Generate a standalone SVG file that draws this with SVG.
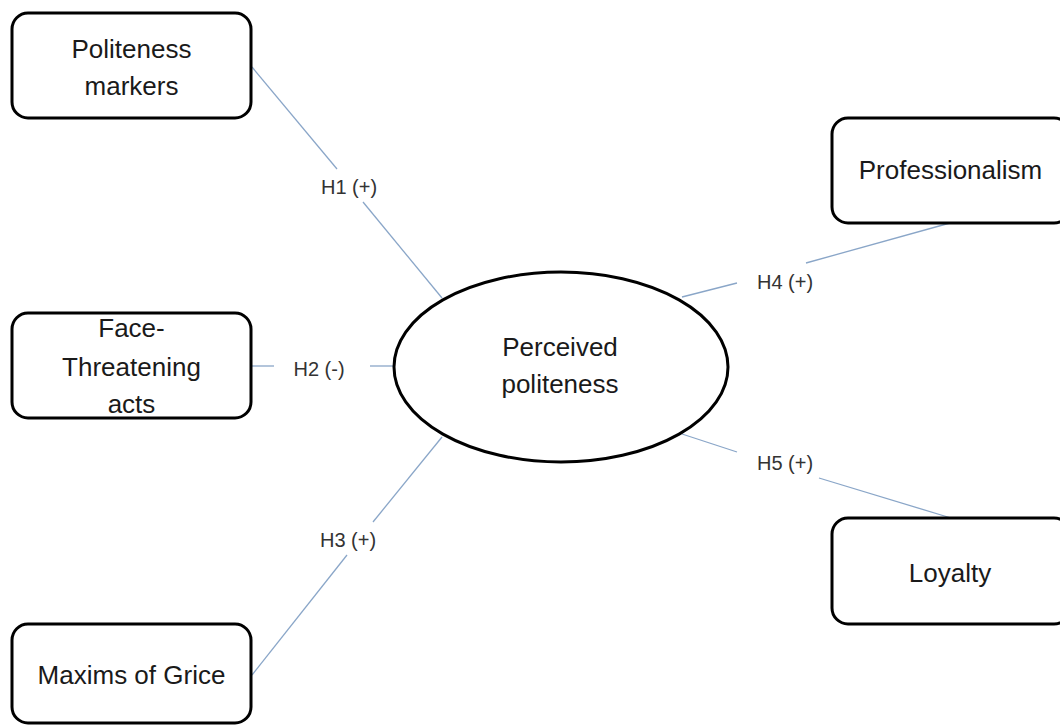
<svg xmlns="http://www.w3.org/2000/svg" width="1060" height="725" viewBox="0 0 1060 725">
<style>
.box{fill:#fff;stroke:#000;stroke-width:3}
.t{font-family:"Liberation Sans",Arial,sans-serif;font-size:26px;fill:#1a1a1a;text-anchor:middle}
.l{font-family:"Liberation Sans",Arial,sans-serif;font-size:20px;fill:#333;text-anchor:middle}
.c{stroke:#8aa6c8;stroke-width:1.3;fill:none}
</style>
<rect width="1060" height="725" fill="#fff"/>
<g id="connectors">
<line class="c" x1="252" y1="67" x2="337" y2="169"/>
<line class="c" x1="363" y1="202" x2="442" y2="298"/>
<line class="c" x1="251" y1="366" x2="274" y2="366"/>
<line class="c" x1="370" y1="366" x2="395" y2="366"/>
<line class="c" x1="442" y1="437" x2="373" y2="522"/>
<line class="c" x1="347" y1="555" x2="252" y2="675"/>
<line class="c" x1="682" y1="297" x2="737" y2="283"/>
<line class="c" x1="806" y1="263" x2="950" y2="223"/>
<line class="c" x1="682" y1="434" x2="737" y2="452"/>
<line class="c" x1="819" y1="478" x2="951" y2="518"/>
<text class="l" x="349" y="194">H1 (+)</text>
<text class="l" x="319" y="376">H2 (-)</text>
<text class="l" x="348" y="547">H3 (+)</text>
<text class="l" x="785" y="289">H4 (+)</text>
<text class="l" x="785" y="470">H5 (+)</text>
</g>
<g id="politeness-markers">
<rect class="box" x="12" y="13" width="239" height="105" rx="16"/>
<text class="t" x="131.5" y="58">Politeness</text>
<text class="t" x="131.5" y="95">markers</text>
</g>
<g id="face-threatening-acts">
<rect class="box" x="12" y="313" width="239" height="105" rx="16"/>
<text class="t" x="131.5" y="337">Face-</text>
<text class="t" x="131.5" y="376">Threatening</text>
<text class="t" x="131.5" y="413">acts</text>
</g>
<g id="maxims-of-grice">
<rect class="box" x="12" y="624" width="239" height="99" rx="16"/>
<text class="t" x="131.5" y="684">Maxims of Grice</text>
</g>
<g id="perceived-politeness">
<ellipse class="box" cx="561" cy="367" rx="167" ry="95"/>
<text class="t" x="560" y="356">Perceived</text>
<text class="t" x="560" y="393">politeness</text>
</g>
<g id="professionalism">
<rect class="box" x="832" y="118" width="238" height="105" rx="16"/>
<text class="t" x="950.5" y="179">Professionalism</text>
</g>
<g id="loyalty">
<rect class="box" x="832" y="518" width="238" height="106" rx="16"/>
<text class="t" x="950" y="582">Loyalty</text>
</g>
</svg>
